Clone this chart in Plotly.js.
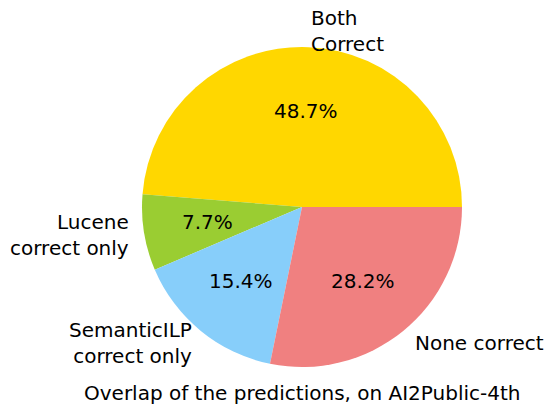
<!DOCTYPE html>
<html>
<head>
<meta charset="utf-8">
<script src="https://cdn.plot.ly/plotly-3.0.1.min.js"></script>
<style>html,body{margin:0;padding:0;background:#fff;}#chart{width:546px;height:404px;}</style>
</head>
<body>
<div id="chart"></div>
<script>
const labels = ["Both\nCorrect", "Lucene\ncorrect only", "SemanticILP\ncorrect only", "None correct"];
const counts = [19, 3, 6, 11];
const colors = ["gold", "yellowgreen", "lightskyblue", "lightcoral"];
const titleText = "Overlap of the predictions, on AI2Public-4th";

const W = 546, H = 404;
const cx = 302, cy = 207, R = 160;
const font = {family: "DejaVu Sans", size: 20, color: "#000"};

const total = counts.reduce((a, b) => a + b, 0);
const annotations = [];
let start = 0;
counts.forEach((v, i) => {
  const frac = v / total;
  const mid = (start + frac / 2) * 2 * Math.PI;
  start += frac;
  const c = Math.cos(mid), s = Math.sin(mid);
  annotations.push({
    xref: "paper", yref: "paper",
    x: (cx + 1.1 * R * c) / W, y: (H - cy + 1.1 * R * s) / H,
    text: labels[i].replace(/\n/g, "<br>"),
    showarrow: false, font: font,
    xshift: c >= 0 ? 0 : 3,
    xanchor: c >= 0 ? "left" : "right", yanchor: "middle", align: c >= 0 ? "left" : "right"
  });
  annotations.push({
    xref: "paper", yref: "paper",
    x: (cx + 0.6 * R * c) / W, y: (H - cy + 0.6 * R * s) / H,
    text: (frac * 100).toFixed(1) + "%",
    showarrow: false, font: font,
    xanchor: "center", yanchor: "middle"
  });
});
annotations.push({
  xref: "paper", yref: "paper", x: cx / W, y: 1 - 393 / H,
  text: titleText, showarrow: false, font: font, xanchor: "center", yanchor: "middle"
});

// Plotly (counterclockwise) puts the boundary between slice 1 and 2 at `rotation`
// (clockwise degrees from 12 o'clock); first slice must start at 3 o'clock.
const rotation = 90 - 360 * counts[0] / total;

const trace = {
  type: "pie",
  values: counts,
  labels: labels,
  sort: false,
  direction: "counterclockwise",
  rotation: rotation,
  marker: {colors: colors, line: {width: 0}},
  textinfo: "none",
  hoverinfo: "none",
  domain: {x: [(cx - R) / W, (cx + R) / W], y: [(H - cy - R) / H, (H - cy + R) / H]}
};

const layout = {
  width: W, height: H,
  margin: {l: 0, r: 0, t: 0, b: 0},
  showlegend: false,
  paper_bgcolor: "#fff",
  annotations: annotations
};

Plotly.newPlot("chart", [trace], layout, {displayModeBar: false, staticPlot: true});
</script>
</body>
</html>
